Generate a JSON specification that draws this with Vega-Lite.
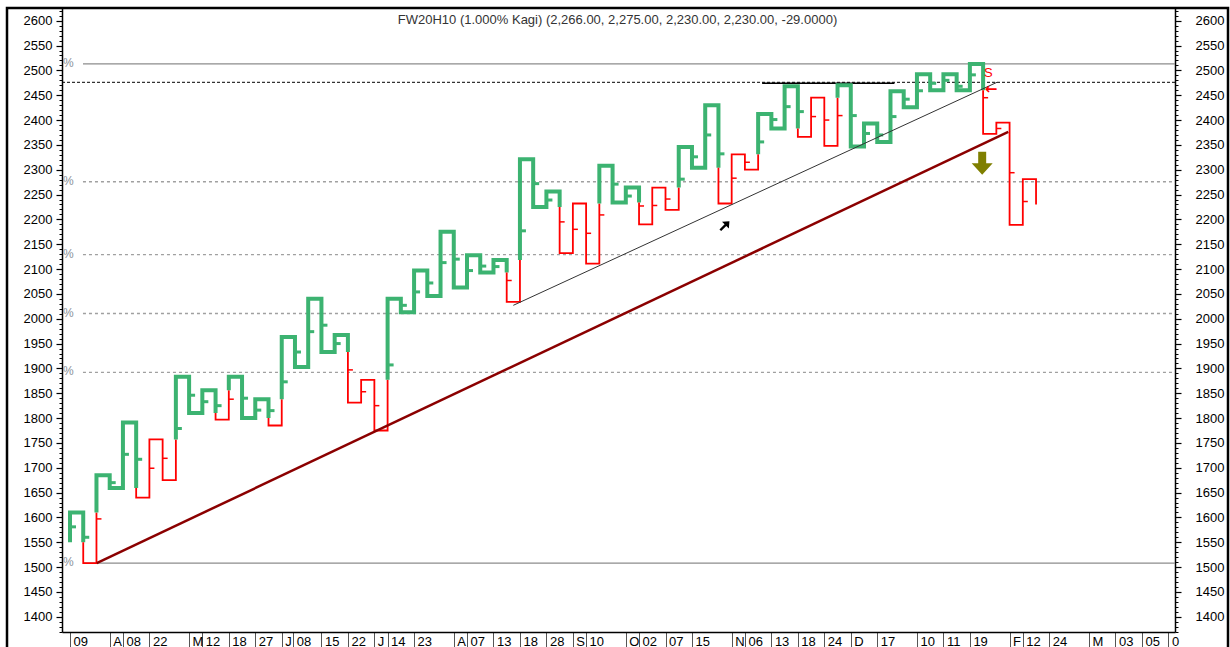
{
  "$schema": "https://vega.github.io/schema/vega-lite/v6.json",
  "width": 1221,
  "height": 642,
  "autosize": {"type": "none"},
  "padding": {"left": 7, "top": 8, "right": 2, "bottom": 0},
  "background": "white",
  "config": {"view": {"stroke": "#000000", "strokeWidth": 2.5}, "font": "Liberation Sans"},
  "title": {"text": "FW20H10 (1.000% Kagi)  (2,266.00, 2,275.00, 2,230.00, 2,230.00, -29.0000)", "font": "Liberation Sans", "fontSize": 13, "fontWeight": "normal", "color": "#333333", "anchor": "middle", "offset": 0, "baseline": "alphabetic", "dy": 29},
  "datasets": {
    "kagi": [
      {"r":1,"s":0,"i":0,"v":1550,"k":"yang"},{"r":1,"s":1,"i":0,"v":1610,"k":"yang"},{"r":1,"s":2,"i":1,"v":1610,"k":"yang"},{"r":1,"s":3,"i":1,"v":1550,"k":"yang"},
      {"r":2,"s":4,"i":1,"v":1550,"k":"yin"},{"r":2,"s":5,"i":1,"v":1508,"k":"yin"},{"r":2,"s":6,"i":2,"v":1508,"k":"yin"},{"r":2,"s":7,"i":2,"v":1610,"k":"yin"},
      {"r":3,"s":8,"i":2,"v":1610,"k":"yang"},{"r":3,"s":9,"i":2,"v":1685,"k":"yang"},{"r":3,"s":10,"i":3,"v":1685,"k":"yang"},{"r":3,"s":11,"i":3,"v":1659,"k":"yang"},{"r":3,"s":12,"i":4,"v":1659,"k":"yang"},{"r":3,"s":13,"i":4,"v":1791,"k":"yang"},{"r":3,"s":14,"i":5,"v":1791,"k":"yang"},{"r":3,"s":15,"i":5,"v":1659,"k":"yang"},
      {"r":4,"s":16,"i":5,"v":1659,"k":"yin"},{"r":4,"s":17,"i":5,"v":1640,"k":"yin"},{"r":4,"s":18,"i":6,"v":1640,"k":"yin"},{"r":4,"s":19,"i":6,"v":1757,"k":"yin"},{"r":4,"s":20,"i":7,"v":1757,"k":"yin"},{"r":4,"s":21,"i":7,"v":1675,"k":"yin"},{"r":4,"s":22,"i":8,"v":1675,"k":"yin"},{"r":4,"s":23,"i":8,"v":1757,"k":"yin"},
      {"r":5,"s":24,"i":8,"v":1757,"k":"yang"},{"r":5,"s":25,"i":8,"v":1883,"k":"yang"},{"r":5,"s":26,"i":9,"v":1883,"k":"yang"},{"r":5,"s":27,"i":9,"v":1810,"k":"yang"},{"r":5,"s":28,"i":10,"v":1810,"k":"yang"},{"r":5,"s":29,"i":10,"v":1856,"k":"yang"},{"r":5,"s":30,"i":11,"v":1856,"k":"yang"},{"r":5,"s":31,"i":11,"v":1810,"k":"yang"},
      {"r":6,"s":32,"i":11,"v":1810,"k":"yin"},{"r":6,"s":33,"i":11,"v":1797,"k":"yin"},{"r":6,"s":34,"i":12,"v":1797,"k":"yin"},{"r":6,"s":35,"i":12,"v":1856,"k":"yin"},
      {"r":7,"s":36,"i":12,"v":1856,"k":"yang"},{"r":7,"s":37,"i":12,"v":1883,"k":"yang"},{"r":7,"s":38,"i":13,"v":1883,"k":"yang"},{"r":7,"s":39,"i":13,"v":1800,"k":"yang"},{"r":7,"s":40,"i":14,"v":1800,"k":"yang"},{"r":7,"s":41,"i":14,"v":1838,"k":"yang"},{"r":7,"s":42,"i":15,"v":1838,"k":"yang"},{"r":7,"s":43,"i":15,"v":1800,"k":"yang"},
      {"r":8,"s":44,"i":15,"v":1800,"k":"yin"},{"r":8,"s":45,"i":15,"v":1785,"k":"yin"},{"r":8,"s":46,"i":16,"v":1785,"k":"yin"},{"r":8,"s":47,"i":16,"v":1838,"k":"yin"},
      {"r":9,"s":48,"i":16,"v":1838,"k":"yang"},{"r":9,"s":49,"i":16,"v":1963,"k":"yang"},{"r":9,"s":50,"i":17,"v":1963,"k":"yang"},{"r":9,"s":51,"i":17,"v":1903,"k":"yang"},{"r":9,"s":52,"i":18,"v":1903,"k":"yang"},{"r":9,"s":53,"i":18,"v":2040,"k":"yang"},{"r":9,"s":54,"i":19,"v":2040,"k":"yang"},{"r":9,"s":55,"i":19,"v":1933,"k":"yang"},{"r":9,"s":56,"i":20,"v":1933,"k":"yang"},{"r":9,"s":57,"i":20,"v":1967,"k":"yang"},{"r":9,"s":58,"i":21,"v":1967,"k":"yang"},{"r":9,"s":59,"i":21,"v":1933,"k":"yang"},
      {"r":10,"s":60,"i":21,"v":1933,"k":"yin"},{"r":10,"s":61,"i":21,"v":1831,"k":"yin"},{"r":10,"s":62,"i":22,"v":1831,"k":"yin"},{"r":10,"s":63,"i":22,"v":1877,"k":"yin"},{"r":10,"s":64,"i":23,"v":1877,"k":"yin"},{"r":10,"s":65,"i":23,"v":1775,"k":"yin"},{"r":10,"s":66,"i":24,"v":1775,"k":"yin"},{"r":10,"s":67,"i":24,"v":1877,"k":"yin"},
      {"r":11,"s":68,"i":24,"v":1877,"k":"yang"},{"r":11,"s":69,"i":24,"v":2040,"k":"yang"},{"r":11,"s":70,"i":25,"v":2040,"k":"yang"},{"r":11,"s":71,"i":25,"v":2013,"k":"yang"},{"r":11,"s":72,"i":26,"v":2013,"k":"yang"},{"r":11,"s":73,"i":26,"v":2097,"k":"yang"},{"r":11,"s":74,"i":27,"v":2097,"k":"yang"},{"r":11,"s":75,"i":27,"v":2046,"k":"yang"},{"r":11,"s":76,"i":28,"v":2046,"k":"yang"},{"r":11,"s":77,"i":28,"v":2175,"k":"yang"},{"r":11,"s":78,"i":29,"v":2175,"k":"yang"},{"r":11,"s":79,"i":29,"v":2063,"k":"yang"},{"r":11,"s":80,"i":30,"v":2063,"k":"yang"},{"r":11,"s":81,"i":30,"v":2128,"k":"yang"},{"r":11,"s":82,"i":31,"v":2128,"k":"yang"},{"r":11,"s":83,"i":31,"v":2093,"k":"yang"},{"r":11,"s":84,"i":32,"v":2093,"k":"yang"},{"r":11,"s":85,"i":32,"v":2118,"k":"yang"},{"r":11,"s":86,"i":33,"v":2118,"k":"yang"},{"r":11,"s":87,"i":33,"v":2093,"k":"yang"},
      {"r":12,"s":88,"i":33,"v":2093,"k":"yin"},{"r":12,"s":89,"i":33,"v":2034,"k":"yin"},{"r":12,"s":90,"i":34,"v":2034,"k":"yin"},{"r":12,"s":91,"i":34,"v":2118,"k":"yin"},
      {"r":13,"s":92,"i":34,"v":2118,"k":"yang"},{"r":13,"s":93,"i":34,"v":2321,"k":"yang"},{"r":13,"s":94,"i":35,"v":2321,"k":"yang"},{"r":13,"s":95,"i":35,"v":2225,"k":"yang"},{"r":13,"s":96,"i":36,"v":2225,"k":"yang"},{"r":13,"s":97,"i":36,"v":2256,"k":"yang"},{"r":13,"s":98,"i":37,"v":2256,"k":"yang"},{"r":13,"s":99,"i":37,"v":2225,"k":"yang"},
      {"r":14,"s":100,"i":37,"v":2225,"k":"yin"},{"r":14,"s":101,"i":37,"v":2132,"k":"yin"},{"r":14,"s":102,"i":38,"v":2132,"k":"yin"},{"r":14,"s":103,"i":38,"v":2232,"k":"yin"},{"r":14,"s":104,"i":39,"v":2232,"k":"yin"},{"r":14,"s":105,"i":39,"v":2111,"k":"yin"},{"r":14,"s":106,"i":40,"v":2111,"k":"yin"},{"r":14,"s":107,"i":40,"v":2232,"k":"yin"},
      {"r":15,"s":108,"i":40,"v":2232,"k":"yang"},{"r":15,"s":109,"i":40,"v":2308,"k":"yang"},{"r":15,"s":110,"i":41,"v":2308,"k":"yang"},{"r":15,"s":111,"i":41,"v":2234,"k":"yang"},{"r":15,"s":112,"i":42,"v":2234,"k":"yang"},{"r":15,"s":113,"i":42,"v":2264,"k":"yang"},{"r":15,"s":114,"i":43,"v":2264,"k":"yang"},{"r":15,"s":115,"i":43,"v":2234,"k":"yang"},
      {"r":16,"s":116,"i":43,"v":2234,"k":"yin"},{"r":16,"s":117,"i":43,"v":2190,"k":"yin"},{"r":16,"s":118,"i":44,"v":2190,"k":"yin"},{"r":16,"s":119,"i":44,"v":2264,"k":"yin"},{"r":16,"s":120,"i":45,"v":2264,"k":"yin"},{"r":16,"s":121,"i":45,"v":2219,"k":"yin"},{"r":16,"s":122,"i":46,"v":2219,"k":"yin"},{"r":16,"s":123,"i":46,"v":2264,"k":"yin"},
      {"r":17,"s":124,"i":46,"v":2264,"k":"yang"},{"r":17,"s":125,"i":46,"v":2346,"k":"yang"},{"r":17,"s":126,"i":47,"v":2346,"k":"yang"},{"r":17,"s":127,"i":47,"v":2304,"k":"yang"},{"r":17,"s":128,"i":48,"v":2304,"k":"yang"},{"r":17,"s":129,"i":48,"v":2430,"k":"yang"},{"r":17,"s":130,"i":49,"v":2430,"k":"yang"},{"r":17,"s":131,"i":49,"v":2304,"k":"yang"},
      {"r":18,"s":132,"i":49,"v":2304,"k":"yin"},{"r":18,"s":133,"i":49,"v":2232,"k":"yin"},{"r":18,"s":134,"i":50,"v":2232,"k":"yin"},{"r":18,"s":135,"i":50,"v":2331,"k":"yin"},{"r":18,"s":136,"i":51,"v":2331,"k":"yin"},{"r":18,"s":137,"i":51,"v":2300,"k":"yin"},{"r":18,"s":138,"i":52,"v":2300,"k":"yin"},{"r":18,"s":139,"i":52,"v":2331,"k":"yin"},
      {"r":19,"s":140,"i":52,"v":2331,"k":"yang"},{"r":19,"s":141,"i":52,"v":2412,"k":"yang"},{"r":19,"s":142,"i":53,"v":2412,"k":"yang"},{"r":19,"s":143,"i":53,"v":2383,"k":"yang"},{"r":19,"s":144,"i":54,"v":2383,"k":"yang"},{"r":19,"s":145,"i":54,"v":2468,"k":"yang"},{"r":19,"s":146,"i":55,"v":2468,"k":"yang"},{"r":19,"s":147,"i":55,"v":2383,"k":"yang"},
      {"r":20,"s":148,"i":55,"v":2383,"k":"yin"},{"r":20,"s":149,"i":55,"v":2366,"k":"yin"},{"r":20,"s":150,"i":56,"v":2366,"k":"yin"},{"r":20,"s":151,"i":56,"v":2445,"k":"yin"},{"r":20,"s":152,"i":57,"v":2445,"k":"yin"},{"r":20,"s":153,"i":57,"v":2348,"k":"yin"},{"r":20,"s":154,"i":58,"v":2348,"k":"yin"},{"r":20,"s":155,"i":58,"v":2445,"k":"yin"},
      {"r":21,"s":156,"i":58,"v":2445,"k":"yang"},{"r":21,"s":157,"i":58,"v":2470,"k":"yang"},{"r":21,"s":158,"i":59,"v":2470,"k":"yang"},{"r":21,"s":159,"i":59,"v":2347,"k":"yang"},{"r":21,"s":160,"i":60,"v":2347,"k":"yang"},{"r":21,"s":161,"i":60,"v":2393,"k":"yang"},{"r":21,"s":162,"i":61,"v":2393,"k":"yang"},{"r":21,"s":163,"i":61,"v":2356,"k":"yang"},{"r":21,"s":164,"i":62,"v":2356,"k":"yang"},{"r":21,"s":165,"i":62,"v":2458,"k":"yang"},{"r":21,"s":166,"i":63,"v":2458,"k":"yang"},{"r":21,"s":167,"i":63,"v":2426,"k":"yang"},{"r":21,"s":168,"i":64,"v":2426,"k":"yang"},{"r":21,"s":169,"i":64,"v":2492,"k":"yang"},{"r":21,"s":170,"i":65,"v":2492,"k":"yang"},{"r":21,"s":171,"i":65,"v":2460,"k":"yang"},{"r":21,"s":172,"i":66,"v":2460,"k":"yang"},{"r":21,"s":173,"i":66,"v":2492,"k":"yang"},{"r":21,"s":174,"i":67,"v":2492,"k":"yang"},{"r":21,"s":175,"i":67,"v":2460,"k":"yang"},{"r":21,"s":176,"i":68,"v":2460,"k":"yang"},{"r":21,"s":177,"i":68,"v":2513,"k":"yang"},{"r":21,"s":178,"i":69,"v":2513,"k":"yang"},{"r":21,"s":179,"i":69,"v":2460,"k":"yang"},
      {"r":22,"s":180,"i":69,"v":2460,"k":"yin"},{"r":22,"s":181,"i":69,"v":2372,"k":"yin"},{"r":22,"s":182,"i":70,"v":2372,"k":"yin"},{"r":22,"s":183,"i":70,"v":2395,"k":"yin"},{"r":22,"s":184,"i":71,"v":2395,"k":"yin"},{"r":22,"s":185,"i":71,"v":2189,"k":"yin"},{"r":22,"s":186,"i":72,"v":2189,"k":"yin"},{"r":22,"s":187,"i":72,"v":2281,"k":"yin"},{"r":22,"s":188,"i":73,"v":2281,"k":"yin"},{"r":22,"s":189,"i":73,"v":2230,"k":"yin"}
    ],
    "ticksYang": [
      {"i":0,"v":1581},{"i":1,"v":1560},{"i":3,"v":1670},{"i":4,"v":1727},{"i":5,"v":1717},{"i":8,"v":1779},{"i":9,"v":1846},{"i":10,"v":1833},{"i":11,"v":1825},{"i":13,"v":1840},{"i":14,"v":1816},{"i":15,"v":1815},{"i":16,"v":1873},{"i":17,"v":1933},{"i":18,"v":1974},{"i":19,"v":1987},{"i":20,"v":1950},{"i":24,"v":1907},{"i":25,"v":2027},{"i":26,"v":2054},{"i":27,"v":2072},{"i":28,"v":2113},{"i":29,"v":2120},{"i":30,"v":2097},{"i":31,"v":2106},{"i":32,"v":2105},{"i":34,"v":2177},{"i":35,"v":2272},{"i":36,"v":2239},{"i":41,"v":2271},{"i":42,"v":2247},{"i":46,"v":2281},{"i":47,"v":2326},{"i":48,"v":2370},{"i":49,"v":2332},{"i":52,"v":2356},{"i":53,"v":2401},{"i":54,"v":2427},{"i":55,"v":2417},{"i":59,"v":2409},{"i":60,"v":2373},{"i":61,"v":2370},{"i":62,"v":2407},{"i":63,"v":2442},{"i":64,"v":2459},{"i":65,"v":2474},{"i":66,"v":2480},{"i":67,"v":2468},{"i":68,"v":2491}
    ],
    "ticksYin": [
      {"i":2,"v":1597},{"i":6,"v":1699},{"i":7,"v":1719},{"i":12,"v":1838},{"i":21,"v":1897},{"i":22,"v":1853},{"i":23,"v":1825},{"i":33,"v":2077},{"i":37,"v":2195},{"i":38,"v":2180},{"i":39,"v":2172},{"i":40,"v":2209},{"i":43,"v":2227},{"i":44,"v":2228},{"i":45,"v":2241},{"i":50,"v":2283},{"i":51,"v":2315},{"i":56,"v":2407},{"i":57,"v":2400},{"i":58,"v":2409},{"i":69,"v":2445},{"i":70,"v":2383},{"i":71,"v":2294},{"i":72,"v":2236}
    ],
    "fib": [
      {"level":0,"v":2513},{"level":23.6,"v":2275.8},{"level":38.2,"v":2129.1},{"level":50,"v":2010.5},{"level":61.8,"v":1891.9},{"level":100,"v":1508}
    ],
    "notes": [
      {"i":69.4,"v":2495,"label":"S"},{"i":69.6,"v":2462,"label":"←"},{"i":68.93,"v":2313,"label":"down"},{"i":49.4,"v":2185,"label":"up"}
    ]
  },
  "resolve": {"axis": {"x": "independent", "y": "independent"}},
  "layer": [
    {
      "data": {"name": "fib"},
      "transform": [{"filter": "datum.level == 0 || datum.level == 100"}],
      "mark": {"type": "rule", "color": "#8c8c8c", "strokeWidth": 1.3},
      "encoding": {
        "x": {"datum": 0.98, "type": "quantitative", "scale": {"domain": [-0.6045, 83.5], "range": [55, 1168], "nice": false, "zero": false}, "axis": null},
        "x2": {"datum": 83.5},
        "y": {"field": "v", "type": "quantitative", "scale": {"domain": [1369.3, 2625.6], "range": [624, 0], "nice": false, "zero": false},
              "axis": {"orient": "right", "offset": -53, "tickCount": 126, "labels": false, "domain": false, "tickSize": 3, "tickColor": "#000000", "tickWidth": 1, "grid": false, "title": null}}
      }
    },
    {
      "data": {"name": "fib"},
      "transform": [{"filter": "datum.level > 0 && datum.level < 100"}],
      "mark": {"type": "rule", "color": "#a0a0a0", "strokeWidth": 1.3, "strokeDash": [3, 3]},
      "encoding": {
        "x": {"datum": 0.98, "type": "quantitative", "scale": {"domain": [-0.6045, 83.5], "range": [55, 1168], "nice": false, "zero": false}, "axis": null},
        "x2": {"datum": 83.5},
        "y": {"field": "v", "type": "quantitative", "scale": {"domain": [1369.3, 2625.6], "range": [624, 0], "nice": false, "zero": false}, "axis": null}
      }
    },
    {
      "data": {"name": "fib"},
      "mark": {"type": "text", "text": "%", "align": "left", "baseline": "middle", "color": "#8a929a", "fontSize": 12, "dx": 1, "dy": -1},
      "encoding": {
        "x": {"datum": -0.6045, "type": "quantitative", "scale": {"domain": [-0.6045, 83.5], "range": [55, 1168], "nice": false, "zero": false}, "axis": null},
        "y": {"field": "v", "type": "quantitative", "scale": {"domain": [1369.3, 2625.6], "range": [624, 0], "nice": false, "zero": false}, "axis": null}
      }
    },
    {
      "data": {"values": [{"v": 2476}]},
      "mark": {"type": "rule", "color": "#000000", "strokeWidth": 1, "strokeDash": [3, 2]},
      "encoding": {
        "x": {"datum": -0.6045, "type": "quantitative", "scale": {"domain": [-0.6045, 83.5], "range": [55, 1168], "nice": false, "zero": false}, "axis": null},
        "x2": {"datum": 83.5},
        "y": {"field": "v", "type": "quantitative", "scale": {"domain": [1369.3, 2625.6], "range": [624, 0], "nice": false, "zero": false}, "axis": null}
      }
    },
    {
      "data": {"values": [{"i0": 52.3, "i1": 62.3, "v": 2474}]},
      "mark": {"type": "rule", "color": "#000000", "strokeWidth": 1.4},
      "encoding": {
        "x": {"field": "i0", "type": "quantitative", "scale": {"domain": [-0.6045, 83.5], "range": [55, 1168], "nice": false, "zero": false}, "axis": null},
        "x2": {"field": "i1"},
        "y": {"field": "v", "type": "quantitative", "scale": {"domain": [1369.3, 2625.6], "range": [624, 0], "nice": false, "zero": false}, "axis": null}
      }
    },
    {
      "data": {"name": "kagi"},
      "mark": {"type": "line", "strokeJoin": "miter"},
      "encoding": {
        "x": {"field": "i", "type": "quantitative", "scale": {"domain": [-0.6045, 83.5], "range": [55, 1168], "nice": false, "zero": false},
              "axis": {"orient": "bottom", "offset": -18, "title": null, "grid": false,
                       "values": [0,3,4,6,9,10,12,14,16,16.87,19,21,23,24,26,29,30,32,34,36,38,39,42,43,45,47,50,51,53,55,57,59,61,64,66,68,71,72,74,77,79,81,83],
                       "labelExpr": "['09','A','08','22','M','12','18','27','J','08','15','22','J','14','23','A','07','13','18','28','S','10','O','02','07','15','N','06','13','18','24','D','17','10','11','19','F','12','24','M','03','05','0'][indexof([0,3,4,6,9,10,12,14,16,16.87,19,21,23,24,26,29,30,32,34,36,38,39,42,43,45,47,50,51,53,55,57,59,61,64,66,68,71,72,74,77,79,81,83], datum.value)]",
                       "tickSize": 16, "tickColor": "#555555", "tickWidth": 1, "domainColor": "#000000", "domainWidth": 1.5,
                       "labelAlign": "left", "labelBaseline": "top", "labelPadding": -13, "labelOffset": 3,
                       "labelFont": "Liberation Sans", "labelFontSize": 13, "labelColor": "#000000", "labelOverlap": false, "labelFlush": false}},
        "y": {"field": "v", "type": "quantitative", "scale": {"domain": [1369.3, 2625.6], "range": [624, 0], "nice": false, "zero": false},
              "axis": {"orient": "left", "offset": -55, "title": null, "grid": false, "format": "d",
                       "values": [1400,1450,1500,1550,1600,1650,1700,1750,1800,1850,1900,1950,2000,2050,2100,2150,2200,2250,2300,2350,2400,2450,2500,2550,2600],
                       "tickSize": 6, "tickColor": "#000000", "tickWidth": 1.2, "domainColor": "#000000", "domainWidth": 1.5,
                       "labelFont": "Liberation Sans", "labelFontSize": 13, "labelColor": "#000000", "labelPadding": 4, "labelOverlap": false, "labelFlush": false}},
        "detail": {"field": "r", "type": "nominal"},
        "color": {"field": "k", "type": "nominal", "scale": {"domain": ["yang", "yin"], "range": ["#3CB371", "#FF0000"]}, "legend": null},
        "strokeWidth": {"field": "k", "type": "nominal", "scale": {"domain": ["yang", "yin"], "range": [4, 1.8]}, "legend": null},
        "order": {"field": "s", "type": "quantitative"}
      }
    },
    {
      "data": {"name": "ticksYang"},
      "mark": {"type": "tick", "orient": "horizontal", "size": 6, "thickness": 3, "xOffset": 3, "color": "#3CB371", "opacity": 1},
      "encoding": {
        "x": {"field": "i", "type": "quantitative", "scale": {"domain": [-0.6045, 83.5], "range": [55, 1168], "nice": false, "zero": false}, "axis": null},
        "y": {"field": "v", "type": "quantitative", "scale": {"domain": [1369.3, 2625.6], "range": [624, 0], "nice": false, "zero": false},
              "axis": {"orient": "left", "offset": -55, "tickCount": 126, "labels": false, "domain": false, "tickSize": 3, "tickColor": "#000000", "tickWidth": 1, "grid": false, "title": null}}
      }
    },
    {
      "data": {"name": "ticksYin"},
      "mark": {"type": "tick", "orient": "horizontal", "size": 5, "thickness": 1.5, "xOffset": 2.5, "color": "#FF0000", "opacity": 1},
      "encoding": {
        "x": {"field": "i", "type": "quantitative", "scale": {"domain": [-0.6045, 83.5], "range": [55, 1168], "nice": false, "zero": false}, "axis": null},
        "y": {"field": "v", "type": "quantitative", "scale": {"domain": [1369.3, 2625.6], "range": [624, 0], "nice": false, "zero": false},
              "axis": {"orient": "right", "offset": -53, "title": null, "grid": false, "format": "d",
                       "values": [1400,1450,1500,1550,1600,1650,1700,1750,1800,1850,1900,1950,2000,2050,2100,2150,2200,2250,2300,2350,2400,2450,2500,2550,2600],
                       "tickSize": 6, "tickColor": "#000000", "tickWidth": 1.2, "domainColor": "#000000", "domainWidth": 1.5,
                       "labelFont": "Liberation Sans", "labelFontSize": 13, "labelColor": "#000000", "labelPadding": 14, "labelOverlap": false, "labelFlush": false}}
      }
    },
    {
      "data": {"values": [{"i0": 2.02, "v0": 1508, "i1": 70.9, "v1": 2376}]},
      "mark": {"type": "rule", "color": "#8B0000", "strokeWidth": 2.5},
      "encoding": {
        "x": {"field": "i0", "type": "quantitative", "scale": {"domain": [-0.6045, 83.5], "range": [55, 1168], "nice": false, "zero": false}, "axis": null},
        "x2": {"field": "i1"},
        "y": {"field": "v0", "type": "quantitative", "scale": {"domain": [1369.3, 2625.6], "range": [624, 0], "nice": false, "zero": false}, "axis": null},
        "y2": {"field": "v1"}
      }
    },
    {
      "data": {"values": [{"i0": 33.5, "v0": 2027, "i1": 70.05, "v1": 2476}]},
      "mark": {"type": "rule", "color": "#333333", "strokeWidth": 1},
      "encoding": {
        "x": {"field": "i0", "type": "quantitative", "scale": {"domain": [-0.6045, 83.5], "range": [55, 1168], "nice": false, "zero": false}, "axis": null},
        "x2": {"field": "i1"},
        "y": {"field": "v0", "type": "quantitative", "scale": {"domain": [1369.3, 2625.6], "range": [624, 0], "nice": false, "zero": false}, "axis": null},
        "y2": {"field": "v1"}
      }
    },
    {
      "data": {"name": "notes"},
      "transform": [{"filter": "datum.label == 'S'"}],
      "mark": {"type": "text", "color": "#FF0000", "fontSize": 13, "font": "Liberation Sans", "align": "center", "baseline": "middle"},
      "encoding": {
        "x": {"field": "i", "type": "quantitative", "scale": {"domain": [-0.6045, 83.5], "range": [55, 1168], "nice": false, "zero": false}, "axis": null},
        "y": {"field": "v", "type": "quantitative", "scale": {"domain": [1369.3, 2625.6], "range": [624, 0], "nice": false, "zero": false}, "axis": null},
        "text": {"field": "label"}
      }
    },
    {
      "data": {"name": "notes"},
      "transform": [{"filter": "datum.label == '←'"}],
      "mark": {"type": "text", "color": "#FF0000", "fontSize": 15, "font": "DejaVu Sans", "fontWeight": "bold", "align": "center", "baseline": "middle"},
      "encoding": {
        "x": {"field": "i", "type": "quantitative", "scale": {"domain": [-0.6045, 83.5], "range": [55, 1168], "nice": false, "zero": false}, "axis": null},
        "y": {"field": "v", "type": "quantitative", "scale": {"domain": [1369.3, 2625.6], "range": [624, 0], "nice": false, "zero": false}, "axis": null},
        "text": {"field": "label"}
      }
    },
    {
      "data": {"name": "notes"},
      "transform": [{"filter": "datum.label == 'down'"}],
      "mark": {"type": "point", "shape": "M-0.38,-1.1 L0.38,-1.1 L0.38,0 L1,0 L0,1.1 L-1,0 L-0.38,0 Z", "size": 441, "filled": true, "color": "#7f7f00", "opacity": 1, "strokeWidth": 0},
      "encoding": {
        "x": {"field": "i", "type": "quantitative", "scale": {"domain": [-0.6045, 83.5], "range": [55, 1168], "nice": false, "zero": false}, "axis": null},
        "y": {"field": "v", "type": "quantitative", "scale": {"domain": [1369.3, 2625.6], "range": [624, 0], "nice": false, "zero": false}, "axis": null}
      }
    },
    {
      "data": {"name": "notes"},
      "transform": [{"filter": "datum.label == 'up'"}],
      "mark": {"type": "point", "shape": "M1,-1 L0.9,0.3 L0.45,-0.15 L-0.45,0.75 L-0.75,0.45 L0.15,-0.45 L-0.3,-0.9 Z", "size": 130, "filled": true, "color": "#000000", "opacity": 1, "strokeWidth": 0},
      "encoding": {
        "x": {"field": "i", "type": "quantitative", "scale": {"domain": [-0.6045, 83.5], "range": [55, 1168], "nice": false, "zero": false}, "axis": null},
        "y": {"field": "v", "type": "quantitative", "scale": {"domain": [1369.3, 2625.6], "range": [624, 0], "nice": false, "zero": false}, "axis": null}
      }
    }
  ]
}
